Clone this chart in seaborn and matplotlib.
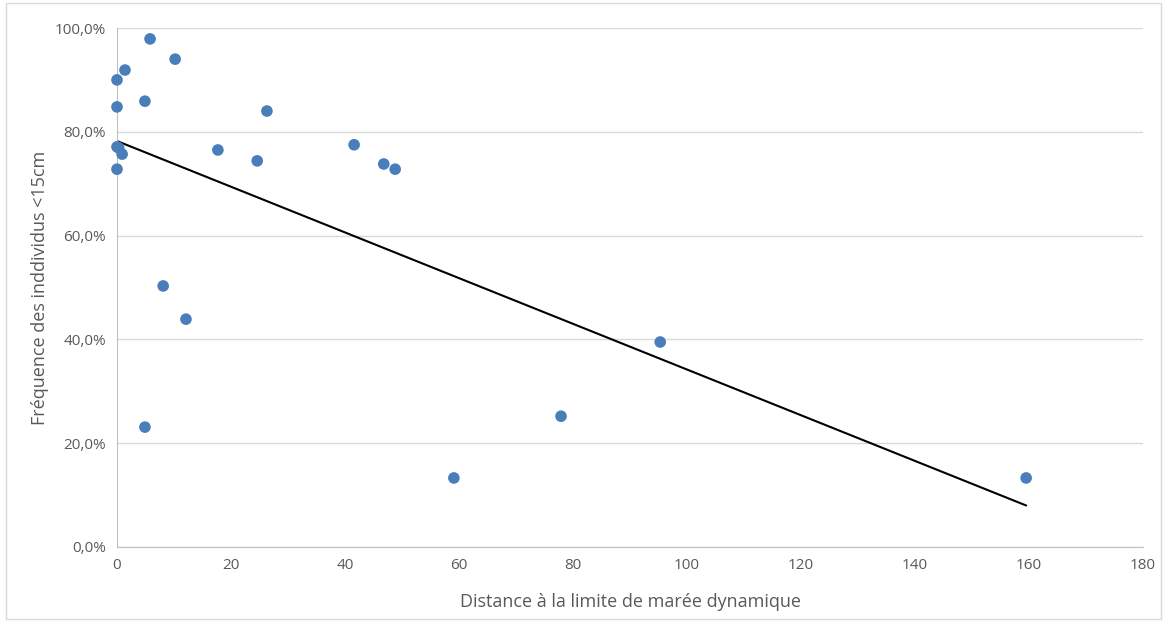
import numpy as np
import pandas as pd
import seaborn as sns
import matplotlib.pyplot as plt
from matplotlib.ticker import FuncFormatter

# distance (x) and frequency of small individuals (y, %)
distance = [5.8, 10.2, 1.4, 0.0, 0.0, 4.9, 26.3, 17.7, 24.6, 0.0, 0.3, 0.9, 0.0,
            41.6, 46.8, 48.8, 8.1, 12.1, 4.9, 59.1, 77.9, 95.3, 159.5]
frequence = [97.9, 94.0, 91.9, 90.0, 84.8, 85.9, 84.0, 76.5, 74.4, 77.1, 76.9, 75.7, 72.8,
             77.5, 73.8, 72.8, 50.3, 43.9, 23.1, 13.3, 25.2, 39.5, 13.3]

df = pd.DataFrame({"distance": distance, "freq": frequence})

sns.set_style("white")
plt.rcParams['font.family'] = ['Liberation Sans Narrow', 'Open Sans', 'DejaVu Sans']

fig = plt.figure(figsize=(11.67, 6.25), dpi=100)
ax = fig.add_axes([117/1167, 1 - 547/625, (1143-117)/1167, (547-28)/625])

# trend line (linear fit over the data)
sns.regplot(x="distance", y="freq", data=df, ci=None, scatter=False, truncate=True,
            line_kws={"color": "black", "lw": 1.5}, ax=ax)
sns.scatterplot(x="distance", y="freq", data=df, color="#4a7ebb", s=70,
                edgecolor="none", ax=ax, zorder=3, clip_on=False)

ax.set_xlim(0, 180)
ax.set_ylim(0, 100)
ax.set_xticks(range(0, 181, 20))
ax.set_yticks(range(0, 101, 20))
ax.yaxis.set_major_formatter(FuncFormatter(lambda v, p: f"{v:.1f}%".replace(".", ",")))
ax.grid(axis="y", color="#d9d9d9", lw=1)
ax.set_axisbelow(True)
for s in ["top", "right"]:
    ax.spines[s].set_visible(False)
for s in ["left", "bottom"]:
    ax.spines[s].set_color("#bfbfbf")
ax.tick_params(colors="#595959", labelsize=11, length=0, pad=8)
ax.set_xlabel("Distance à la limite de marée dynamique", color="#595959", fontsize=13, labelpad=14)
ax.set_ylabel("Fréquence des inddividus <15cm", color="#595959", fontsize=13, labelpad=4)

# chart border
fig.patches.append(plt.Rectangle((0.005, 0.01), 0.99, 0.985, transform=fig.transFigure,
                                 fill=False, edgecolor="#d9d9d9", lw=1))

fig.savefig("out.png", dpi=100)
